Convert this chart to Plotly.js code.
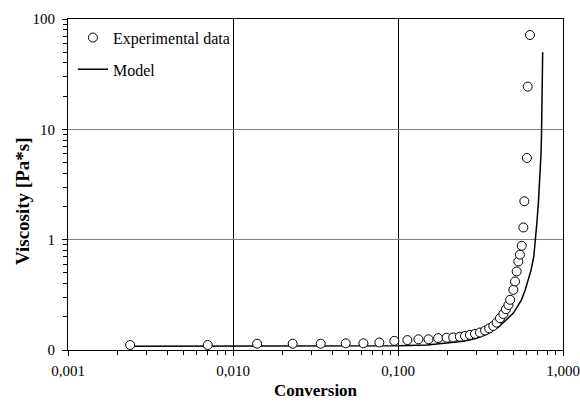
<!DOCTYPE html>
<html>
<head>
<meta charset="utf-8">
<script src="https://cdn.plot.ly/plotly-3.0.1.min.js"></script>
<style>html,body{margin:0;padding:0;background:#fff;}#chart{width:580px;height:407px;}</style>
</head>
<body>
<div id="chart"></div>
<script>
// Experimental data (conversion, viscosity in Pa*s)
const expConversion = [0.00238, 0.00703, 0.0140, 0.0230, 0.0340, 0.0482, 0.0617, 0.0771, 0.095, 0.114, 0.133, 0.153, 0.175, 0.197, 0.216, 0.237, 0.255, 0.273, 0.293, 0.314, 0.337, 0.357, 0.378, 0.396, 0.415, 0.435, 0.451, 0.467, 0.478, 0.500, 0.512, 0.524, 0.536, 0.548, 0.562, 0.575, 0.583, 0.604, 0.611, 0.631];
const expViscosity = [0.111, 0.111, 0.114, 0.114, 0.114, 0.115, 0.115, 0.117, 0.121, 0.123, 0.125, 0.125, 0.128, 0.129, 0.130, 0.132, 0.134, 0.137, 0.140, 0.144, 0.150, 0.157, 0.165, 0.177, 0.194, 0.212, 0.234, 0.256, 0.285, 0.351, 0.418, 0.515, 0.635, 0.731, 0.88, 1.29, 2.23, 5.5, 24.4, 71.6];
// Model curve
const modelConversion = [0.00238, 0.01, 0.05, 0.10, 0.15, 0.20, 0.25, 0.30, 0.35, 0.41, 0.45, 0.50, 0.53, 0.56, 0.59, 0.616, 0.64, 0.665, 0.68, 0.694, 0.71, 0.72, 0.729, 0.736, 0.741, 0.745, 0.749, 0.753];
const modelViscosity = [0.108, 0.108, 0.108, 0.109, 0.111, 0.115, 0.120, 0.128, 0.140, 0.163, 0.185, 0.216, 0.248, 0.285, 0.35, 0.43, 0.53, 0.70, 0.95, 1.4, 2.2, 3.0, 4.2, 6.0, 9.0, 14.0, 25.0, 50.0];
// Tick labels
const xTickVals = [0.001, 0.01, 0.1, 1];
const xTickText = ["0,001", "0,010", "0,100", "1,000"];
const yTickVals = [0.1, 1, 10, 100];
const yTickText = ["0", "1", "10", "100"];
const yTitle = "Viscosity [Pa*s]";
const xTitle = "Conversion";

function minorVals(lo, hi) {
  const v = [];
  for (let d = lo; d < hi; d *= 10) for (let k = 2; k <= 9; k++) v.push(+(d * k).toPrecision(3));
  return v;
}

const serif = "Times New Roman, Liberation Serif, DejaVu Serif, serif";

const traces = [
  {
    x: modelConversion, y: modelViscosity, name: "Model", type: "scatter", mode: "lines",
    line: {color: "#000", width: 1.5}, legendgroup: "b", legendrank: 2
  },
  {
    x: expConversion, y: expViscosity, name: "Experimental data", type: "scatter", mode: "markers",
    marker: {symbol: "circle", size: 9, color: "#fff", line: {color: "#000", width: 1}}, legendgroup: "a", legendrank: 1
  }
];

const layout = {
  width: 580, height: 407,
  margin: {l: 68, r: 17, t: 19, b: 57},
  paper_bgcolor: "#fff", plot_bgcolor: "#fff",
  font: {family: serif, size: 15, color: "#000"},
  showlegend: true,
  legend: {
    x: 0.01, y: 0.995, xanchor: "left", yanchor: "top",
    bgcolor: "rgba(0,0,0,0)", traceorder: "grouped", tracegroupgap: 8,
    font: {family: serif, size: 16, color: "#000"}
  },
  xaxis: {
    type: "log", range: [-3, 0],
    tickmode: "array", tickvals: xTickVals, ticktext: xTickText,
    ticks: "outside", ticklen: 5, tickcolor: "#000", ticklabelstandoff: 2,
    showgrid: true, gridcolor: "#000", gridwidth: 1,
    showline: true, linecolor: "#000", linewidth: 1, mirror: true,
    zeroline: false,
    minor: {tickmode: "array", tickvals: minorVals(0.001, 1), ticks: "outside", ticklen: 4, tickcolor: "#000", showgrid: false},
    tickfont: {family: serif, size: 15},
    title: {text: "<b>" + xTitle + "</b>", font: {family: serif, size: 17}, standoff: 6}
  },
  yaxis: {
    type: "log", range: [-1, 2],
    tickmode: "array", tickvals: yTickVals, ticktext: yTickText,
    ticks: "outside", ticklen: 5, tickcolor: "#000", ticklabelstandoff: 4,
    showgrid: true, gridcolor: "#7f7f7f", gridwidth: 1,
    showline: true, linecolor: "#000", linewidth: 1, mirror: true,
    zeroline: false,
    minor: {tickmode: "array", tickvals: minorVals(0.1, 100), ticks: "outside", ticklen: 4, tickcolor: "#000", showgrid: false},
    tickfont: {family: serif, size: 15}
  },
  annotations: [{
    text: "<b>" + yTitle + "</b>", xref: "paper", yref: "paper",
    x: -0.093, y: 0.45, xanchor: "center", yanchor: "middle",
    textangle: -90, showarrow: false,
    font: {family: serif, size: 19, color: "#000"}
  }]
};

Plotly.newPlot("chart", traces, layout, {displayModeBar: false, staticPlot: true});
</script>
</body>
</html>
